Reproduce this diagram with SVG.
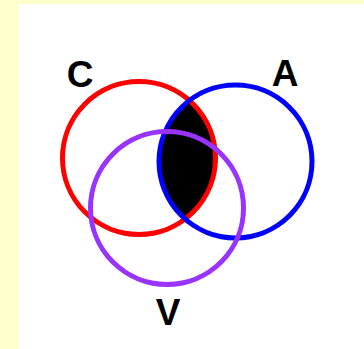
<svg xmlns="http://www.w3.org/2000/svg" width="364" height="349" viewBox="0 0 364 349">
<style>
.ring{fill:none;stroke-width:5}
.lbl{font-family:"Liberation Sans",Arial,sans-serif;font-weight:bold;font-size:37px;fill:#000;text-anchor:middle}
</style>
<defs>
<clipPath id="clipC"><circle cx="139" cy="158" r="76.5"/></clipPath>
</defs>
<rect x="0" y="0" width="364" height="349" fill="#ffffcc"/>
<rect x="19" y="4" width="345" height="345" fill="#ffffff"/>
<g id="lens">
<circle cx="235.5" cy="161.5" r="76.5" fill="#000" clip-path="url(#clipC)"/>
</g>
<g id="C">
<circle class="ring" cx="139" cy="158" r="76.5" stroke="#ff0000"/>
<text class="lbl" x="80" y="87">C</text>
</g>
<g id="A">
<circle class="ring" cx="235.5" cy="161.5" r="76.5" stroke="#0000ff"/>
<text class="lbl" x="285" y="86">A</text>
</g>
<g id="V">
<circle class="ring" cx="167" cy="208" r="76.5" stroke="#9933ff"/>
<text class="lbl" x="168" y="325">V</text>
</g>
<g id="connectors"/>
</svg>
